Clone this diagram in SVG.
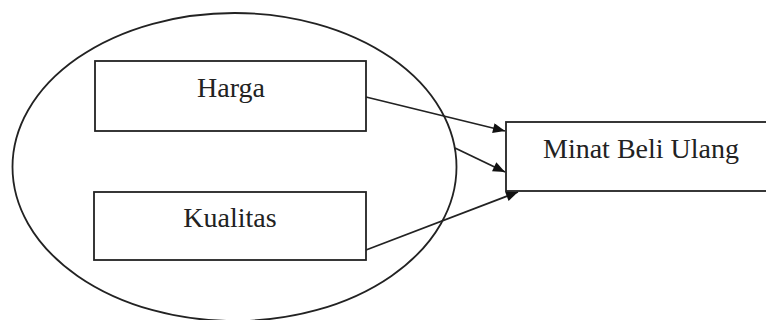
<svg xmlns="http://www.w3.org/2000/svg" width="766" height="320" viewBox="0 0 766 320">
<style>
.s{fill:none;stroke:#222;stroke-width:1.8}
.b{fill:#fff;stroke:#222;stroke-width:1.8}
.t{font-family:"Liberation Serif","Times New Roman",serif;font-size:28px;fill:#222;text-anchor:middle}
</style>
<defs>
<marker id="ah" viewBox="0 0 12 10" refX="12" refY="5" markerWidth="13" markerHeight="10" markerUnits="userSpaceOnUse" orient="auto">
<path d="M0,0 L12,5 L0,10 z" fill="#111"/>
</marker>
</defs>
<rect width="766" height="320" fill="#fff"/>
<g id="group">
<ellipse class="s" cx="234.5" cy="167" rx="222" ry="154"/>
</g>
<g id="harga">
<rect class="b" x="95" y="61" width="271" height="70"/>
<text class="t" x="231" y="97">Harga</text>
</g>
<g id="kualitas">
<rect class="b" x="94" y="192" width="272" height="68"/>
<text class="t" x="230" y="227">Kualitas</text>
</g>
<g id="minat">
<rect class="b" x="506" y="122" width="262" height="69"/>
<text class="t" x="641" y="158">Minat Beli Ulang</text>
</g>
<g id="connectors">
<line class="s" x1="366" y1="97" x2="505" y2="131" marker-end="url(#ah)"/>
<line class="s" x1="455" y1="148" x2="505" y2="172" marker-end="url(#ah)"/>
<line class="s" x1="366" y1="250" x2="518" y2="192" marker-end="url(#ah)"/>
</g>
</svg>
